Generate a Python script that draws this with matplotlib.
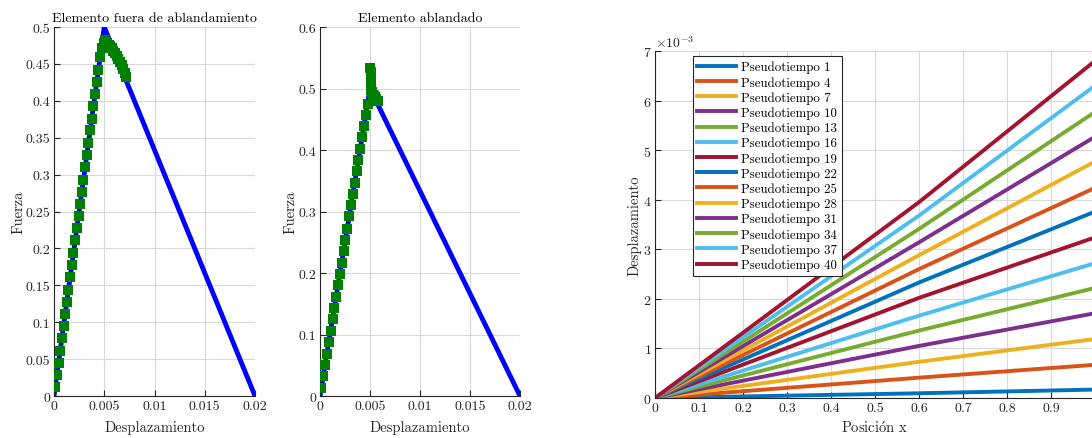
# Curvas fuerza-desplazamiento de los dos elementos y desplazamientos por pseudotiempo
import numpy as np
import matplotlib.pyplot as plt

plt.rcParams['font.family'] = ['cmr10', 'DejaVu Serif']
plt.rcParams['mathtext.fontset'] = 'cm'
plt.rcParams['axes.formatter.use_mathtext'] = True
plt.rcParams['font.size'] = 10
plt.rcParams['axes.unicode_minus'] = False

GRIS = '#262626'

# --- ley constitutiva (rama elástica + rama de ablandamiento)
ley_x = [0.0, 0.005, 0.02]
ley_f = [0.0, 0.5, 0.0]

# --- elemento fuera de ablandamiento
fuera_x = [0.00012, 0.00028, 0.00045, 0.00061, 0.00078, 0.00095, 0.00111,
           0.00128, 0.00144, 0.00161, 0.00177, 0.00194, 0.00211, 0.00227,
           0.00244, 0.00260, 0.00277, 0.00293, 0.00310, 0.00326, 0.00343,
           0.00360, 0.00376, 0.00393, 0.00409, 0.00426, 0.00442, 0.00459,
           0.00475, 0.00500, 0.00510, 0.00520, 0.00530, 0.00545, 0.00560,
           0.00575, 0.00590, 0.00607, 0.00624, 0.00640, 0.00657, 0.00673,
           0.00690, 0.00705, 0.00718]
fuera_f = [0.012, 0.028, 0.045, 0.061, 0.078, 0.095, 0.111,
           0.128, 0.144, 0.161, 0.177, 0.194, 0.211, 0.227,
           0.244, 0.260, 0.277, 0.293, 0.310, 0.326, 0.343,
           0.360, 0.376, 0.393, 0.409, 0.426, 0.442, 0.459,
           0.472, 0.478, 0.483, 0.480, 0.478, 0.476, 0.474,
           0.471, 0.468, 0.465, 0.461, 0.457, 0.452, 0.448,
           0.443, 0.438, 0.432]

# --- elemento ablandado
abl_x = [0.00013, 0.00032, 0.00050, 0.00069, 0.00088, 0.00106, 0.00125,
         0.00143, 0.00161, 0.00180, 0.00198, 0.00217, 0.00235, 0.00253,
         0.00272, 0.00292, 0.00310, 0.00328, 0.00347, 0.00366, 0.00384,
         0.00402, 0.00421, 0.00439, 0.00457, 0.00477, 0.00503, 0.00505,
         0.00506, 0.00508, 0.00508, 0.00510, 0.00512, 0.00516, 0.00522,
         0.00530, 0.00540, 0.00550, 0.00562, 0.00575]
abl_f = [0.013, 0.032, 0.050, 0.069, 0.088, 0.106, 0.125,
         0.143, 0.161, 0.180, 0.198, 0.217, 0.235, 0.253,
         0.272, 0.292, 0.310, 0.328, 0.347, 0.366, 0.384,
         0.402, 0.421, 0.439, 0.457, 0.475, 0.533, 0.527,
         0.521, 0.515, 0.509, 0.503, 0.498, 0.495, 0.492,
         0.490, 0.488, 0.486, 0.483, 0.480]

# --- desplazamientos en la barra
posicion = [0.0, 0.6, 1.0]
pseudotiempos = [1, 4, 7, 10, 13, 16, 19, 22, 25, 28, 31, 34, 37, 40]
u_06 = [0.095e-3, 0.41e-3, 0.73e-3, 1.05e-3, 1.36e-3, 1.66e-3, 2.02e-3,
        2.33e-3, 2.60e-3, 2.88e-3, 3.14e-3, 3.41e-3, 3.68e-3, 3.95e-3]
u_1 = [0.17e-3, 0.67e-3, 1.19e-3, 1.71e-3, 2.22e-3, 2.72e-3, 3.24e-3,
       3.76e-3, 4.24e-3, 4.77e-3, 5.27e-3, 5.77e-3, 6.30e-3, 6.80e-3]

colores = ['#0072BD', '#D95319', '#EDB120', '#7E2F8E', '#77AC30',
           '#4DBEEE', '#A2142F']

fuerza_ticks_1 = [0, 0.05, 0.1, 0.15, 0.2, 0.25, 0.3, 0.35, 0.4, 0.45, 0.5]
fuerza_lab_1 = ['0', '0.05', '0.1', '0.15', '0.2', '0.25', '0.3', '0.35',
                '0.4', '0.45', '0.5']
fuerza_ticks_2 = [0, 0.1, 0.2, 0.3, 0.4, 0.5, 0.6]
fuerza_lab_2 = ['0', '0.1', '0.2', '0.3', '0.4', '0.5', '0.6']
despl_ticks = [0, 0.005, 0.01, 0.015, 0.02]
despl_lab = ['0', '0.005', '0.01', '0.015', '0.02']
pos_ticks = [0, 0.1, 0.2, 0.3, 0.4, 0.5, 0.6, 0.7, 0.8, 0.9, 1.0]
# la etiqueta del 1 queda fuera de la figura
pos_lab = ['0', '0.1', '0.2', '0.3', '0.4', '0.5', '0.6', '0.7', '0.8',
           '0.9', '']

W, H = 1092, 439
fig = plt.figure(figsize=(W / 100, H / 100), dpi=100)


def caja(x0, x1, y0, y1):
    # rectángulo en píxeles (origen arriba a la izquierda)
    return [x0 / W, 1 - y1 / H, (x1 - x0) / W, (y1 - y0) / H]


def estilo(ax):
    ax.spines['top'].set_visible(False)
    ax.spines['right'].set_visible(False)
    for s in ('left', 'bottom'):
        ax.spines[s].set_color(GRIS)
        ax.spines[s].set_linewidth(0.8)
    ax.tick_params(direction='in', length=4, width=0.8, colors=GRIS,
                   labelsize=10, pad=2.5)
    ax.grid(True, color='#d9d9d9', linewidth=0.8)
    ax.set_axisbelow(True)


ax1 = fig.add_axes(caja(54, 255, 28, 397))
ax1.plot(ley_x, ley_f, color='blue', linewidth=3.5, zorder=2)
ax1.plot(fuera_x, fuera_f, 's', color='#008000', markersize=7,
         markeredgewidth=0, zorder=3)
ax1.set_xlim(0, 0.02)
ax1.set_ylim(0, 0.5)
ax1.set_xticks(despl_ticks, despl_lab)
ax1.set_yticks(fuerza_ticks_1, fuerza_lab_1)
ax1.set_title('Elemento fuera de ablandamiento', fontsize=10, pad=4,
              color='black')
ax1.set_xlabel('Desplazamiento', fontsize=10.5, color=GRIS, labelpad=6)
ax1.set_ylabel('Fuerza', fontsize=10.5, color=GRIS, labelpad=0)
estilo(ax1)

ax2 = fig.add_axes(caja(320, 520, 28, 397))
ax2.plot(ley_x, ley_f, color='blue', linewidth=3.5, zorder=2)
ax2.plot(abl_x, abl_f, 's', color='#008000', markersize=7,
         markeredgewidth=0, zorder=3)
ax2.set_xlim(0, 0.02)
ax2.set_ylim(0, 0.6)
ax2.set_xticks(despl_ticks, despl_lab)
ax2.set_yticks(fuerza_ticks_2, fuerza_lab_2)
ax2.set_title('Elemento ablandado', fontsize=10, pad=4, color='black')
ax2.set_xlabel('Desplazamiento', fontsize=10.5, color=GRIS, labelpad=6)
ax2.set_ylabel('Fuerza', fontsize=10.5, color=GRIS, labelpad=1)
estilo(ax2)

ax3 = fig.add_axes(caja(655, 1095, 52, 399))
for i, pt in enumerate(pseudotiempos):
    ax3.plot(posicion, [0.0, u_06[i], u_1[i]], color=colores[i % 7],
             linewidth=2.8, label=f'Pseudotiempo {pt}')
ax3.set_xlim(0, 1)
ax3.set_ylim(0, 7e-3)
ax3.set_xticks(pos_ticks, pos_lab)
ax3.ticklabel_format(axis='y', style='sci', scilimits=(0, 0),
                     useMathText=True)
ax3.set_xlabel(r'Posici$\acute{\mathrm{o}}$n x', fontsize=10.5, color=GRIS,
               labelpad=4)
ax3.set_ylabel('Desplazamiento', fontsize=10.5, color=GRIS, labelpad=1)
estilo(ax3)
ax3.yaxis.get_offset_text().set_color(GRIS)
ax3.yaxis.get_offset_text().set_fontsize(10)
leg = ax3.legend(loc='upper left', bbox_to_anchor=(0.086, 0.985),
                 fontsize=9.3, handlelength=3.0, labelspacing=0.2,
                 borderpad=0.35, handletextpad=0.4, fancybox=False,
                 framealpha=1, edgecolor=GRIS, borderaxespad=0)
leg.get_frame().set_linewidth(0.8)

fig.savefig('out.png', dpi=100)
